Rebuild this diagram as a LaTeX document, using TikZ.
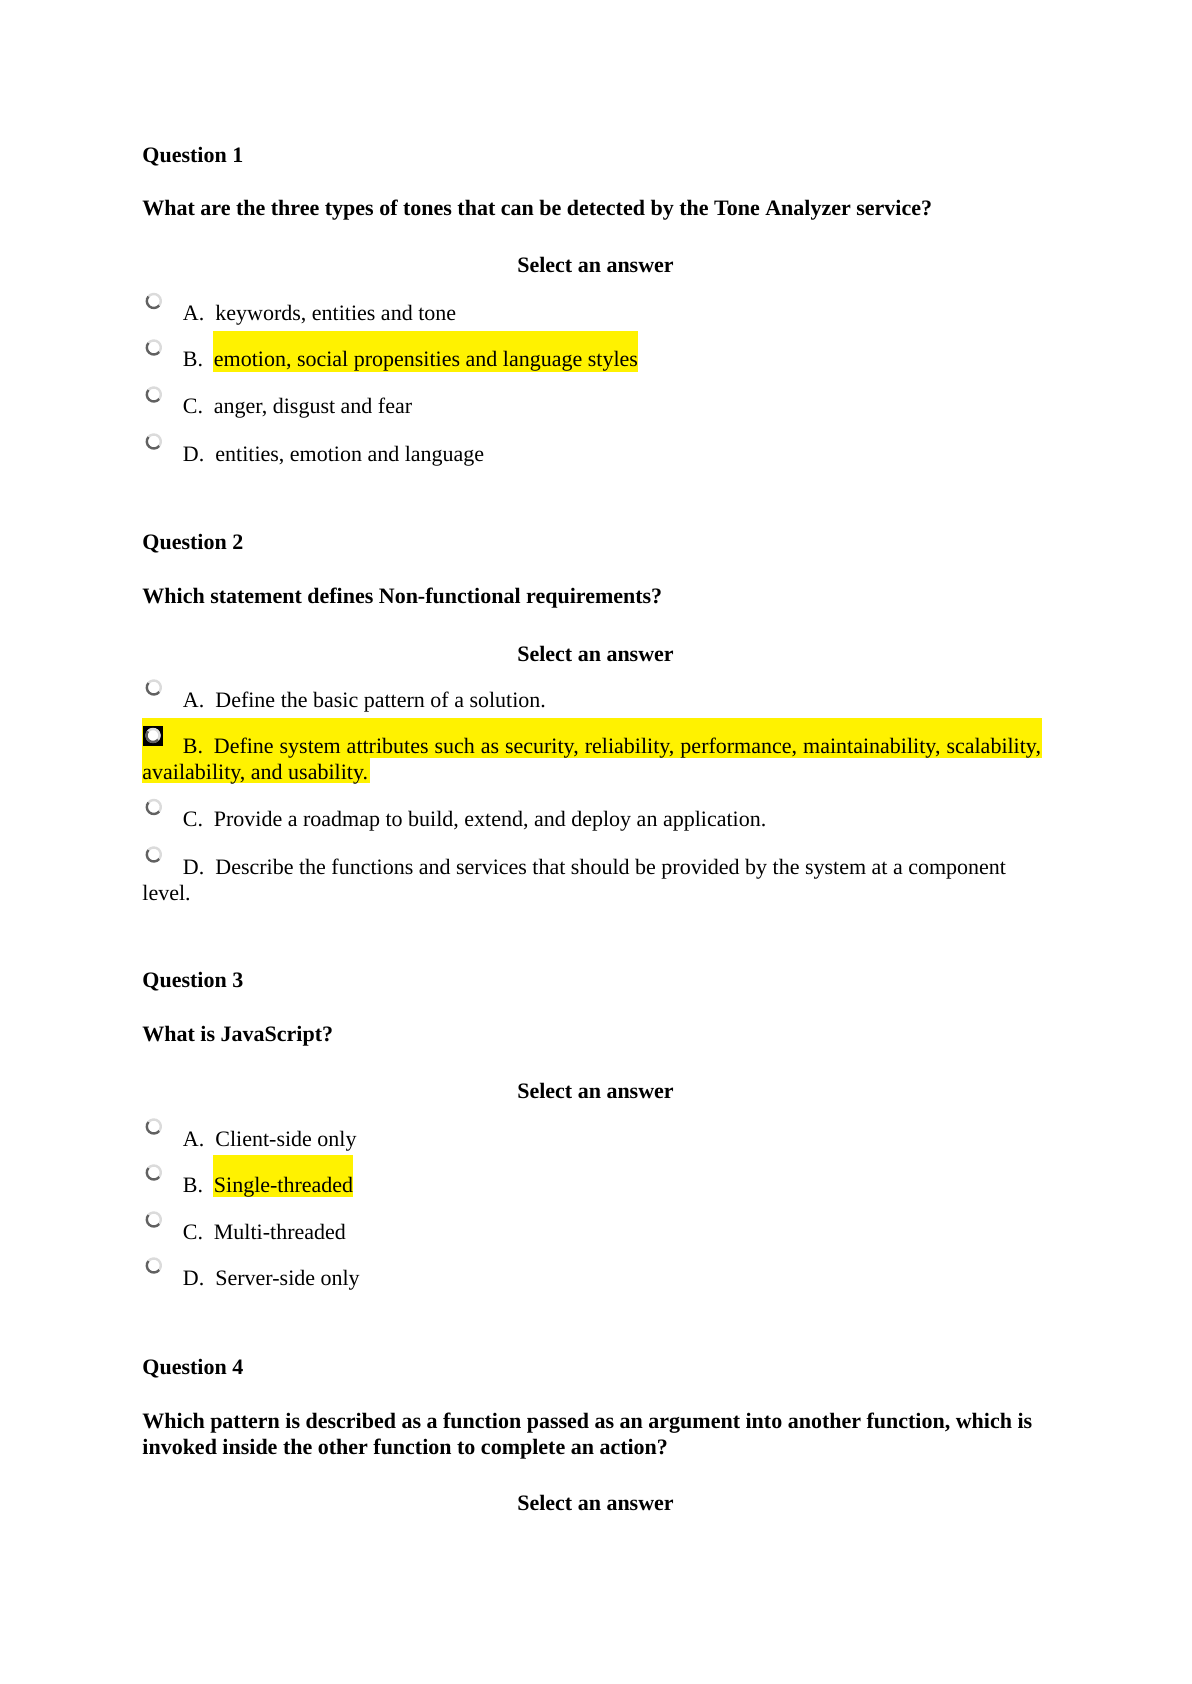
\documentclass[tikz,border=0pt]{standalone}
\usepackage{fontspec}
\setmainfont{Liberation Serif}
\begin{document}
\begin{tikzpicture}[x=0.5pt,y=-0.5pt,
  txt/.style={anchor=base west,inner sep=0pt,font=\fontsize{11}{13}\selectfont},
  btxt/.style={txt,font=\fontsize{11}{13}\selectfont\bfseries},
  ctr/.style={anchor=base,inner sep=0pt,font=\fontsize{11}{13}\selectfont\bfseries},
  hl/.style={fill=yellow,draw=none},
  radio/.pic={
    \fill[white] (0,0) circle (7);
    \draw[black!14,line width=1.2pt] (220:7) arc (220:400:7);
    \draw[black!62,line width=1.2pt] (40:7) arc (40:220:7);
  },
  radiochk/.pic={
    \fill[black] (-10,-10) rectangle (10,10);
    \fill[white] (0,0) circle (7.5);
    \draw[black!14,line width=1.2pt] (220:6.5) arc (220:400:6.5);
    \draw[black!62,line width=1.2pt] (40:6.5) arc (40:220:6.5);
  }]
\useasboundingbox (0,0) rectangle (1191,1684);
\fill[white] (0,0) rectangle (1191,1684);
% highlights
\fill[hl] (212.7,331) rectangle (638,372.5);
\fill[hl] (142,718) rectangle (1042,758);
\fill[hl] (142,758) rectangle (370,783);
\fill[hl] (212.7,1155) rectangle (352.7,1197);
\begin{scope}[yshift=-0.5pt]
% ---------- Question 1
\node[btxt] (q1t) at (142,162) {Question 1};
\node[btxt] (q1q) at (142,215) {What are the three types of tones that can be detected by the Tone Analyzer service?};
\node[ctr] (q1s) at (595.5,272) {Select an answer};
\pic at (153.8,300) {radio};
\node[txt] (q1al) at (182.5,319.5) {A.};
\node[txt] (q1a) at (215,319.5) {keywords, entities and tone};
\pic at (153.8,346.5) {radio};
\node[txt] (q1bl) at (182.5,366) {B.};
\node[txt] (q1b) at (213.5,366) {emotion, social propensities and language styles};
\pic at (153.8,393.5) {radio};
\node[txt] (q1cl) at (182.5,413) {C.};
\node[txt] (q1c) at (213.5,413) {anger, disgust and fear};
\pic at (153.8,440.5) {radio};
\node[txt] (q1dl) at (182.5,460) {D.};
\node[txt] (q1d) at (215,460) {entities, emotion and language};
% ---------- Question 2
\node[btxt] (q2t) at (142,548) {Question 2};
\node[btxt] (q2q) at (142,602) {Which statement defines Non-functional requirements?};
\node[ctr] (q2s) at (595.5,660) {Select an answer};
\pic at (153.8,686.5) {radio};
\node[txt] (q2al) at (182.5,706) {A.};
\node[txt] (q2a) at (215,706) {Define the basic pattern of a solution.};
\pic at (153,734.5) {radiochk};
\node[txt] (q2bl) at (182.5,752) {B.};
\node[txt] (q2b) at (213.5,752) {\hbox to 413.5pt{Define system attributes such as security, reliability, performance, maintainability, scalability,}};
\node[txt] (q2b2) at (142,778) {availability, and usability.};
\pic at (153.8,806) {radio};
\node[txt] (q2cl) at (182.5,825.5) {C.};
\node[txt] (q2c) at (213.5,825.5) {Provide a roadmap to build, extend, and deploy an application.};
\pic at (153.8,853.5) {radio};
\node[txt] (q2dl) at (182.5,873) {D.};
\node[txt] (q2d) at (215,873) {Describe the functions and services that should be provided by the system at a component};
\node[txt] (q2d2) at (142,899) {level.};
% ---------- Question 3
\node[btxt] (q3t) at (142,986.5) {Question 3};
\node[btxt] (q3q) at (142,1040) {What is JavaScript?};
\node[ctr] (q3s) at (595.5,1097) {Select an answer};
\pic at (153.8,1125.5) {radio};
\node[txt] (q3al) at (182.5,1145) {A.};
\node[txt] (q3a) at (215,1145) {Client-side only};
\pic at (153.8,1171.5) {radio};
\node[txt] (q3bl) at (182.5,1191) {B.};
\node[txt] (q3b) at (213.5,1191) {Single-threaded};
\pic at (153.8,1218.5) {radio};
\node[txt] (q3cl) at (182.5,1238) {C.};
\node[txt] (q3c) at (213.5,1238) {Multi-threaded};
\pic at (153.8,1264.5) {radio};
\node[txt] (q3dl) at (182.5,1284) {D.};
\node[txt] (q3d) at (215,1284) {Server-side only};
% ---------- Question 4
\node[btxt] (q4t) at (142,1373) {Question 4};
\node[btxt] (q4q) at (142,1427) {Which pattern is described as a function passed as an argument into another function, which is};
\node[btxt] (q4q2) at (142,1453) {invoked inside the other function to complete an action?};
\node[ctr] (q4s) at (595.5,1509.5) {Select an answer};
\end{scope}
\end{tikzpicture}
\end{document}
